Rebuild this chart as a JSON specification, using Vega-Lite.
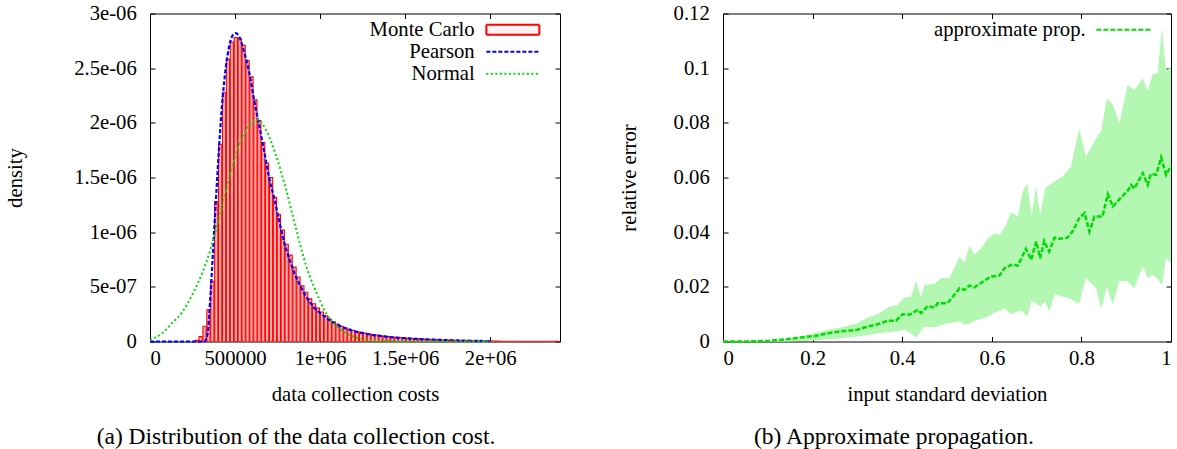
{
  "$schema": "https://vega.github.io/schema/vega-lite/v6.json",
  "padding": {"left": 4, "top": 1.5, "right": 3, "bottom": 0},
  "spacing": 56,
  "config": {
    "font": "Liberation Serif",
    "view": {"stroke": "black", "strokeWidth": 1},
    "axis": {"labelFont": "Liberation Serif", "labelFontSize": 20.7, "labelColor": "black", "labelLimit": 300, "titleFont": "Liberation Serif", "titleFontSize": 20.7, "titleFontWeight": "normal", "titleColor": "black", "domain": false, "grid": false, "tickColor": "black", "tickSize": -5, "labelPadding": 18.7},
    "axisX": {"labelPadding": 12, "titlePadding": 16},
    "legend": {"title": null, "orient": "none", "symbolSize": 100, "labelFont": "Liberation Serif", "labelFontSize": 20.7, "labelColor": "black", "labelAlign": "right", "rowPadding": 0, "symbolStrokeWidth": 2, "labelLimit": 400, "padding": 0},
    "title": {"font": "Liberation Serif", "fontSize": 23.5, "fontWeight": "normal", "color": "black", "orient": "bottom", "anchor": "middle", "frame": "group", "offset": 21}
  },
  "datasets": {
    "hist": [
      {"x0": 260000, "x1": 283000, "d": 0.01e-6},
      {"x0": 283000, "x1": 306000, "d": 0.045e-6},
      {"x0": 306000, "x1": 329000, "d": 0.14e-6},
      {"x0": 329000, "x1": 352000, "d": 0.29e-6},
      {"x0": 352000, "x1": 375000, "d": 0.55e-6},
      {"x0": 375000, "x1": 398000, "d": 1.28e-6},
      {"x0": 398000, "x1": 421000, "d": 1.80e-6},
      {"x0": 421000, "x1": 444000, "d": 2.28e-6},
      {"x0": 444000, "x1": 467000, "d": 2.58e-6},
      {"x0": 467000, "x1": 490000, "d": 2.74e-6},
      {"x0": 490000, "x1": 513000, "d": 2.78e-6},
      {"x0": 513000, "x1": 536000, "d": 2.77e-6},
      {"x0": 536000, "x1": 559000, "d": 2.71e-6},
      {"x0": 559000, "x1": 582000, "d": 2.57e-6},
      {"x0": 582000, "x1": 605000, "d": 2.42e-6},
      {"x0": 605000, "x1": 628000, "d": 2.21e-6},
      {"x0": 628000, "x1": 651000, "d": 2.02e-6},
      {"x0": 651000, "x1": 674000, "d": 1.82e-6},
      {"x0": 674000, "x1": 697000, "d": 1.63e-6},
      {"x0": 697000, "x1": 720000, "d": 1.50e-6},
      {"x0": 720000, "x1": 743000, "d": 1.32e-6},
      {"x0": 743000, "x1": 766000, "d": 1.16e-6},
      {"x0": 766000, "x1": 789000, "d": 1.02e-6},
      {"x0": 789000, "x1": 812000, "d": 0.89e-6},
      {"x0": 812000, "x1": 835000, "d": 0.79e-6},
      {"x0": 835000, "x1": 858000, "d": 0.68e-6},
      {"x0": 858000, "x1": 881000, "d": 0.59e-6},
      {"x0": 881000, "x1": 904000, "d": 0.51e-6},
      {"x0": 904000, "x1": 927000, "d": 0.45e-6},
      {"x0": 927000, "x1": 950000, "d": 0.39e-6},
      {"x0": 950000, "x1": 973000, "d": 0.345e-6},
      {"x0": 973000, "x1": 996000, "d": 0.305e-6},
      {"x0": 996000, "x1": 1019000, "d": 0.27e-6},
      {"x0": 1019000, "x1": 1042000, "d": 0.235e-6},
      {"x0": 1042000, "x1": 1065000, "d": 0.205e-6},
      {"x0": 1065000, "x1": 1088000, "d": 0.18e-6},
      {"x0": 1088000, "x1": 1111000, "d": 0.16e-6},
      {"x0": 1111000, "x1": 1134000, "d": 0.14e-6},
      {"x0": 1134000, "x1": 1157000, "d": 0.125e-6},
      {"x0": 1157000, "x1": 1180000, "d": 0.112e-6},
      {"x0": 1180000, "x1": 1203000, "d": 0.10e-6},
      {"x0": 1203000, "x1": 1226000, "d": 0.092e-6},
      {"x0": 1226000, "x1": 1249000, "d": 0.084e-6},
      {"x0": 1249000, "x1": 1272000, "d": 0.077e-6},
      {"x0": 1272000, "x1": 1295000, "d": 0.07e-6},
      {"x0": 1295000, "x1": 1318000, "d": 0.064e-6},
      {"x0": 1318000, "x1": 1341000, "d": 0.058e-6},
      {"x0": 1341000, "x1": 1364000, "d": 0.053e-6},
      {"x0": 1364000, "x1": 1387000, "d": 0.049e-6},
      {"x0": 1387000, "x1": 1410000, "d": 0.045e-6},
      {"x0": 1410000, "x1": 1433000, "d": 0.041e-6},
      {"x0": 1433000, "x1": 1456000, "d": 0.038e-6},
      {"x0": 1456000, "x1": 1479000, "d": 0.035e-6},
      {"x0": 1479000, "x1": 1502000, "d": 0.032e-6},
      {"x0": 1502000, "x1": 1525000, "d": 0.03e-6},
      {"x0": 1525000, "x1": 1548000, "d": 0.028e-6},
      {"x0": 1548000, "x1": 1571000, "d": 0.026e-6},
      {"x0": 1571000, "x1": 1594000, "d": 0.024e-6},
      {"x0": 1594000, "x1": 1617000, "d": 0.022e-6},
      {"x0": 1617000, "x1": 1640000, "d": 0.02e-6},
      {"x0": 1640000, "x1": 1663000, "d": 0.018e-6},
      {"x0": 1663000, "x1": 1686000, "d": 0.017e-6},
      {"x0": 1686000, "x1": 1709000, "d": 0.015e-6},
      {"x0": 1709000, "x1": 1732000, "d": 0.014e-6},
      {"x0": 1732000, "x1": 1755000, "d": 0.013e-6},
      {"x0": 1755000, "x1": 1778000, "d": 0.012e-6},
      {"x0": 1778000, "x1": 1801000, "d": 0.011e-6},
      {"x0": 1801000, "x1": 1824000, "d": 0.010e-6},
      {"x0": 1824000, "x1": 1847000, "d": 0.009e-6},
      {"x0": 1847000, "x1": 1870000, "d": 0.008e-6},
      {"x0": 1870000, "x1": 1893000, "d": 0.007e-6},
      {"x0": 1893000, "x1": 1916000, "d": 0.006e-6},
      {"x0": 1916000, "x1": 1939000, "d": 0.006e-6},
      {"x0": 1939000, "x1": 1962000, "d": 0.005e-6},
      {"x0": 1962000, "x1": 1985000, "d": 0.005e-6},
      {"x0": 1985000, "x1": 2008000, "d": 0.004e-6},
      {"x0": 2008000, "x1": 2031000, "d": 0.003e-6},
      {"x0": 2031000, "x1": 2054000, "d": 0.003e-6},
      {"x0": 2054000, "x1": 2077000, "d": 0.002e-6},
      {"x0": 2077000, "x1": 2100000, "d": 0.002e-6},
      {"x0": 2100000, "x1": 2123000, "d": 0.002e-6},
      {"x0": 2123000, "x1": 2146000, "d": 0.002e-6},
      {"x0": 2146000, "x1": 2169000, "d": 0.002e-6},
      {"x0": 2169000, "x1": 2192000, "d": 0.001e-6},
      {"x0": 2192000, "x1": 2215000, "d": 0.001e-6},
      {"x0": 2215000, "x1": 2238000, "d": 0.001e-6},
      {"x0": 2238000, "x1": 2261000, "d": 0.001e-6},
      {"x0": 2261000, "x1": 2284000, "d": 0.001e-6},
      {"x0": 2284000, "x1": 2307000, "d": 0.001e-6},
      {"x0": 2307000, "x1": 2330000, "d": 0.001e-6},
      {"x0": 2330000, "x1": 2353000, "d": 0.001e-6},
      {"x0": 2353000, "x1": 2376000, "d": 0.001e-6},
      {"x0": 2376000, "x1": 2399000, "d": 0.001e-6}
    ],
    "pearson": [
      {"x": 0, "d": 0}, {"x": 320000, "d": 0}, {"x": 337000, "d": 0.06e-6}, {"x": 357000, "d": 0.46e-6},
      {"x": 376000, "d": 0.98e-6}, {"x": 396000, "d": 1.52e-6}, {"x": 416000, "d": 2.01e-6}, {"x": 435000, "d": 2.36e-6},
      {"x": 455000, "d": 2.61e-6}, {"x": 475000, "d": 2.76e-6}, {"x": 490000, "d": 2.81e-6}, {"x": 504000, "d": 2.82e-6},
      {"x": 524000, "d": 2.79e-6}, {"x": 553000, "d": 2.65e-6}, {"x": 582000, "d": 2.47e-6}, {"x": 612000, "d": 2.21e-6},
      {"x": 641000, "d": 1.98e-6}, {"x": 670000, "d": 1.75e-6}, {"x": 700000, "d": 1.50e-6}, {"x": 730000, "d": 1.31e-6},
      {"x": 760000, "d": 1.10e-6}, {"x": 790000, "d": 0.90e-6}, {"x": 820000, "d": 0.75e-6}, {"x": 850000, "d": 0.62e-6},
      {"x": 880000, "d": 0.52e-6}, {"x": 910000, "d": 0.43e-6}, {"x": 940000, "d": 0.36e-6}, {"x": 970000, "d": 0.30e-6},
      {"x": 1000000, "d": 0.26e-6}, {"x": 1050000, "d": 0.20e-6}, {"x": 1100000, "d": 0.155e-6}, {"x": 1150000, "d": 0.12e-6},
      {"x": 1200000, "d": 0.095e-6}, {"x": 1300000, "d": 0.062e-6}, {"x": 1400000, "d": 0.042e-6}, {"x": 1500000, "d": 0.03e-6},
      {"x": 1600000, "d": 0.021e-6}, {"x": 1700000, "d": 0.015e-6}, {"x": 1800000, "d": 0.01e-6}, {"x": 1900000, "d": 0.006e-6},
      {"x": 2000000, "d": 0.004e-6}
    ],
    "normal": [
      {"x": 0, "d": 0.015e-6}, {"x": 72000, "d": 0.076e-6}, {"x": 131000, "d": 0.17e-6}, {"x": 190000, "d": 0.27e-6},
      {"x": 249000, "d": 0.43e-6}, {"x": 308000, "d": 0.63e-6}, {"x": 357000, "d": 0.85e-6}, {"x": 406000, "d": 1.13e-6},
      {"x": 465000, "d": 1.49e-6}, {"x": 524000, "d": 1.80e-6}, {"x": 582000, "d": 1.97e-6}, {"x": 631000, "d": 2.03e-6},
      {"x": 680000, "d": 1.94e-6}, {"x": 739000, "d": 1.71e-6}, {"x": 798000, "d": 1.40e-6}, {"x": 857000, "d": 1.04e-6},
      {"x": 916000, "d": 0.70e-6}, {"x": 975000, "d": 0.46e-6}, {"x": 1034000, "d": 0.26e-6}, {"x": 1092000, "d": 0.15e-6},
      {"x": 1151000, "d": 0.076e-6}, {"x": 1229000, "d": 0.03e-6}, {"x": 1308000, "d": 0.012e-6}, {"x": 1400000, "d": 0.004e-6},
      {"x": 1500000, "d": 0.001e-6}, {"x": 2000000, "d": 0}
    ],
    "band": [
      {"s": 0, "lo": 0, "hi": 0}, {"s": 0.1, "lo": 0, "hi": 0.0003}, {"s": 0.137, "lo": 0, "hi": 0.001},
      {"s": 0.174, "lo": 0.0002, "hi": 0.0018}, {"s": 0.211, "lo": 0.0005, "hi": 0.0033}, {"s": 0.234, "lo": 0.0008, "hi": 0.0043},
      {"s": 0.263, "lo": 0.0012, "hi": 0.0051}, {"s": 0.3, "lo": 0.0018, "hi": 0.0067}, {"s": 0.323, "lo": 0.0024, "hi": 0.0088},
      {"s": 0.345, "lo": 0.003, "hi": 0.01}, {"s": 0.368, "lo": 0.0034, "hi": 0.0124}, {"s": 0.39, "lo": 0.0038, "hi": 0.0134},
      {"s": 0.405, "lo": 0.0043, "hi": 0.0161}, {"s": 0.42, "lo": 0.003, "hi": 0.0165}, {"s": 0.431, "lo": 0.0015, "hi": 0.0222},
      {"s": 0.442, "lo": 0.004, "hi": 0.0161}, {"s": 0.449, "lo": 0.0055, "hi": 0.0207}, {"s": 0.472, "lo": 0.0051, "hi": 0.021},
      {"s": 0.487, "lo": 0.006, "hi": 0.0232}, {"s": 0.505, "lo": 0.0067, "hi": 0.0232}, {"s": 0.516, "lo": 0.007, "hi": 0.0268},
      {"s": 0.528, "lo": 0.0073, "hi": 0.0311}, {"s": 0.539, "lo": 0.0062, "hi": 0.0287}, {"s": 0.55, "lo": 0.0065, "hi": 0.035},
      {"s": 0.561, "lo": 0.0075, "hi": 0.0317}, {"s": 0.576, "lo": 0.0082, "hi": 0.0341}, {"s": 0.591, "lo": 0.0091, "hi": 0.0378},
      {"s": 0.606, "lo": 0.0105, "hi": 0.0396}, {"s": 0.617, "lo": 0.0112, "hi": 0.039}, {"s": 0.628, "lo": 0.0122, "hi": 0.0415},
      {"s": 0.643, "lo": 0.01, "hi": 0.0473}, {"s": 0.658, "lo": 0.011, "hi": 0.0457}, {"s": 0.669, "lo": 0.0112, "hi": 0.0549},
      {"s": 0.679, "lo": 0.0091, "hi": 0.0579}, {"s": 0.689, "lo": 0.0148, "hi": 0.0463}, {"s": 0.699, "lo": 0.014, "hi": 0.0567},
      {"s": 0.708, "lo": 0.0128, "hi": 0.0463}, {"s": 0.719, "lo": 0.0146, "hi": 0.0561}, {"s": 0.728, "lo": 0.011, "hi": 0.0573},
      {"s": 0.74, "lo": 0.0171, "hi": 0.0585}, {"s": 0.758, "lo": 0.0165, "hi": 0.0604}, {"s": 0.777, "lo": 0.0155, "hi": 0.064},
      {"s": 0.795, "lo": 0.0138, "hi": 0.078}, {"s": 0.81, "lo": 0.0232, "hi": 0.0677}, {"s": 0.833, "lo": 0.0195, "hi": 0.0744},
      {"s": 0.844, "lo": 0.012, "hi": 0.0768}, {"s": 0.857, "lo": 0.02, "hi": 0.089}, {"s": 0.87, "lo": 0.0134, "hi": 0.0866},
      {"s": 0.885, "lo": 0.0222, "hi": 0.0799}, {"s": 0.903, "lo": 0.022, "hi": 0.0939}, {"s": 0.918, "lo": 0.0195, "hi": 0.092},
      {"s": 0.937, "lo": 0.0274, "hi": 0.0963}, {"s": 0.948, "lo": 0.0232, "hi": 0.0915}, {"s": 0.959, "lo": 0.0245, "hi": 0.0978},
      {"s": 0.97, "lo": 0.023, "hi": 0.0982}, {"s": 0.98, "lo": 0.0207, "hi": 0.1146}, {"s": 0.989, "lo": 0.0305, "hi": 0.0988},
      {"s": 1.0, "lo": 0.0287, "hi": 0.1006}
    ],
    "approx": [
      {"s": 0, "e": 0}, {"s": 0.05, "e": 0}, {"s": 0.1, "e": 0.0002}, {"s": 0.144, "e": 0.0009}, {"s": 0.174, "e": 0.0015},
      {"s": 0.204, "e": 0.002}, {"s": 0.234, "e": 0.003}, {"s": 0.263, "e": 0.0037}, {"s": 0.3, "e": 0.0043}, {"s": 0.323, "e": 0.0055},
      {"s": 0.345, "e": 0.0063}, {"s": 0.368, "e": 0.0076}, {"s": 0.386, "e": 0.0076}, {"s": 0.401, "e": 0.01}, {"s": 0.416, "e": 0.0098},
      {"s": 0.435, "e": 0.0116}, {"s": 0.442, "e": 0.0104}, {"s": 0.457, "e": 0.013}, {"s": 0.472, "e": 0.0124}, {"s": 0.479, "e": 0.014},
      {"s": 0.501, "e": 0.014}, {"s": 0.516, "e": 0.017}, {"s": 0.528, "e": 0.0195}, {"s": 0.539, "e": 0.0189}, {"s": 0.55, "e": 0.0205},
      {"s": 0.561, "e": 0.0198}, {"s": 0.583, "e": 0.0222}, {"s": 0.598, "e": 0.0238}, {"s": 0.617, "e": 0.0241}, {"s": 0.628, "e": 0.0268},
      {"s": 0.647, "e": 0.0283}, {"s": 0.658, "e": 0.0277}, {"s": 0.676, "e": 0.0339}, {"s": 0.688, "e": 0.0299}, {"s": 0.699, "e": 0.0366},
      {"s": 0.708, "e": 0.0305}, {"s": 0.717, "e": 0.0368}, {"s": 0.728, "e": 0.0329}, {"s": 0.74, "e": 0.038}, {"s": 0.751, "e": 0.0376},
      {"s": 0.769, "e": 0.038}, {"s": 0.78, "e": 0.0402}, {"s": 0.795, "e": 0.0451}, {"s": 0.807, "e": 0.047}, {"s": 0.818, "e": 0.0402},
      {"s": 0.829, "e": 0.0457}, {"s": 0.847, "e": 0.0457}, {"s": 0.859, "e": 0.0539}, {"s": 0.87, "e": 0.0494}, {"s": 0.885, "e": 0.0521},
      {"s": 0.903, "e": 0.0551}, {"s": 0.911, "e": 0.0573}, {"s": 0.918, "e": 0.0559}, {"s": 0.937, "e": 0.0616}, {"s": 0.948, "e": 0.0573},
      {"s": 0.955, "e": 0.0613}, {"s": 0.967, "e": 0.061}, {"s": 0.978, "e": 0.0673}, {"s": 0.989, "e": 0.061}, {"s": 1.0, "e": 0.0643}
    ]
  },
  "hconcat": [
    {
      "width": 410,
      "height": 328,
      "title": {"text": "(a) Distribution of the data collection cost.", "dx": -59},
      "resolve": {"scale": {"x": "independent", "y": "independent"}},
      "layer": [
        {
          "data": {"name": "hist"},
          "mark": {"type": "bar", "fill": "#ffb0b0", "strokeWidth": 1.1, "binSpacing": 0.7, "clip": true},
          "encoding": {
            "x": {"field": "x0", "type": "quantitative", "bin": "binned", "scale": {"domain": [0, 2410000], "nice": false, "zero": false},
                  "axis": {"orient": "bottom", "title": "data collection costs", "values": [0, 500000, 1000000, 1500000, 2000000],
                           "labelExpr": "datum.value == 0 ? '0' : datum.value == 500000 ? '500000' : format(datum.value / 1000000, '~g') + 'e+06'"}},
            "x2": {"field": "x1"},
            "y": {"field": "d", "type": "quantitative", "scale": {"domain": [0, 3e-6], "nice": false},
                  "axis": {"orient": "left", "title": "density", "titlePadding": 48, "values": [0, 5e-7, 1e-6, 1.5e-6, 2e-6, 2.5e-6, 3e-6],
                           "labelExpr": "datum.value == 0 ? '0' : datum.value < 9e-7 ? '5e-07' : format(datum.value * 1000000, '~g') + 'e-06'"}},
            "y2": {"datum": 0},
            "stroke": {"datum": "Monte Carlo", "type": "nominal",
                       "scale": {"domain": ["Monte Carlo", "Pearson", "Normal"], "range": ["#ff0000", "#0000ff", "#00dd00"]},
                       "legend": {"legendX": 186, "legendY": 6, "labelOffset": 118, "encode": {"symbols": {"update": {
                         "shape": {"signal": "datum.label === 'Monte Carlo' ? 'M28,-1H38.6V1H28Z' : 'M28,0H38.6'"},
                         "fill": {"signal": "datum.label === 'Monte Carlo' ? '#fff2f2' : 'transparent'"},
                         "strokeDash": {"signal": "datum.label === 'Pearson' ? [4, 2] : datum.label === 'Normal' ? [2, 2.5] : [1, 0]"}
                       }}}}}
          }
        },
        {
          "data": {"name": "pearson"},
          "mark": {"type": "line", "strokeWidth": 2.2, "strokeDash": [4, 2], "interpolate": "monotone"},
          "encoding": {
            "x": {"field": "x", "type": "quantitative", "scale": {"domain": [0, 2410000], "nice": false, "zero": false}, "axis": null},
            "y": {"field": "d", "type": "quantitative", "scale": {"domain": [0, 3e-6], "nice": false}, "axis": null},
            "stroke": {"datum": "Pearson", "type": "nominal",
                       "legend": {"legendX": 186, "legendY": 6, "labelOffset": 118, "encode": {"symbols": {"update": {
                         "shape": {"signal": "datum.label === 'Monte Carlo' ? 'M28,-1H38.6V1H28Z' : 'M28,0H38.6'"},
                         "fill": {"signal": "datum.label === 'Monte Carlo' ? '#fff2f2' : 'transparent'"},
                         "strokeDash": {"signal": "datum.label === 'Pearson' ? [4, 2] : datum.label === 'Normal' ? [2, 2.5] : [1, 0]"}
                       }}}}}
          }
        },
        {
          "data": {"name": "normal"},
          "mark": {"type": "line", "strokeWidth": 2, "strokeDash": [2, 2.5], "interpolate": "monotone"},
          "encoding": {
            "x": {"field": "x", "type": "quantitative", "scale": {"domain": [0, 2410000], "nice": false, "zero": false}, "axis": null},
            "y": {"field": "d", "type": "quantitative", "scale": {"domain": [0, 3e-6], "nice": false}, "axis": null},
            "stroke": {"datum": "Normal", "type": "nominal",
                       "legend": {"legendX": 186, "legendY": 6, "labelOffset": 118, "encode": {"symbols": {"update": {
                         "shape": {"signal": "datum.label === 'Monte Carlo' ? 'M28,-1H38.6V1H28Z' : 'M28,0H38.6'"},
                         "fill": {"signal": "datum.label === 'Monte Carlo' ? '#fff2f2' : 'transparent'"},
                         "strokeDash": {"signal": "datum.label === 'Pearson' ? [4, 2] : datum.label === 'Normal' ? [2, 2.5] : [1, 0]"}
                       }}}}}
          }
        },
        {
          "data": {"name": "pearson"},
          "mark": {"type": "point", "opacity": 0},
          "encoding": {
            "x": {"field": "x", "type": "quantitative", "scale": {"domain": [0, 2410000], "nice": false, "zero": false},
                  "axis": {"orient": "top", "labels": false, "title": null, "values": [0, 500000, 1000000, 1500000, 2000000]}},
            "y": {"field": "d", "type": "quantitative", "scale": {"domain": [0, 3e-6], "nice": false},
                  "axis": {"orient": "right", "labels": false, "title": null, "values": [0, 5e-7, 1e-6, 1.5e-6, 2e-6, 2.5e-6, 3e-6]}}
          }
        }
      ]
    },
    {
      "width": 448,
      "height": 328,
      "title": {"text": "(b) Approximate propagation.", "dx": -53},
      "resolve": {"scale": {"x": "independent", "y": "independent"}},
      "layer": [
        {
          "data": {"name": "band"},
          "mark": {"type": "area", "fill": "#b3f7b3", "opacity": 1},
          "encoding": {
            "x": {"field": "s", "type": "quantitative", "scale": {"domain": [0, 1], "nice": false},
                  "axis": {"orient": "bottom", "title": "input standard deviation", "values": [0, 0.2, 0.4, 0.6, 0.8, 1],
                           "labelExpr": "datum.value == 0 ? '0' : datum.value == 1 ? '1' : format(datum.value, '.1f')"}},
            "y": {"field": "lo", "type": "quantitative", "scale": {"domain": [0, 0.12], "nice": false},
                  "axis": {"orient": "left", "title": "relative error", "titlePadding": 33.6, "values": [0, 0.02, 0.04, 0.06, 0.08, 0.1, 0.12],
                           "labelExpr": "datum.value == 0 ? '0' : format(datum.value, '.2~f')"}},
            "y2": {"field": "hi"}
          }
        },
        {
          "data": {"name": "approx"},
          "mark": {"type": "line", "strokeWidth": 2.5, "strokeDash": [5, 2]},
          "encoding": {
            "x": {"field": "s", "type": "quantitative", "scale": {"domain": [0, 1], "nice": false}, "axis": null},
            "y": {"field": "e", "type": "quantitative", "scale": {"domain": [0, 0.12], "nice": false}, "axis": null},
            "stroke": {"datum": "approximate prop.", "type": "nominal", "scale": {"range": ["#00dd00"]},
                       "legend": {"legendX": 189, "legendY": 6, "labelOffset": 153, "encode": {"symbols": {"update": {
                         "shape": {"value": "M34.8,0H45.6"},
                         "strokeDash": {"value": [5, 2]}
                       }}}}}
          }
        },
        {
          "data": {"name": "approx"},
          "mark": {"type": "point", "opacity": 0},
          "encoding": {
            "x": {"field": "s", "type": "quantitative", "scale": {"domain": [0, 1], "nice": false},
                  "axis": {"orient": "top", "labels": false, "title": null, "values": [0, 0.2, 0.4, 0.6, 0.8, 1]}},
            "y": {"field": "e", "type": "quantitative", "scale": {"domain": [0, 0.12], "nice": false},
                  "axis": {"orient": "right", "labels": false, "title": null, "values": [0, 0.02, 0.04, 0.06, 0.08, 0.1, 0.12]}}
          }
        }
      ]
    }
  ],
  "resolve": {"scale": {"stroke": "independent"}}
}
